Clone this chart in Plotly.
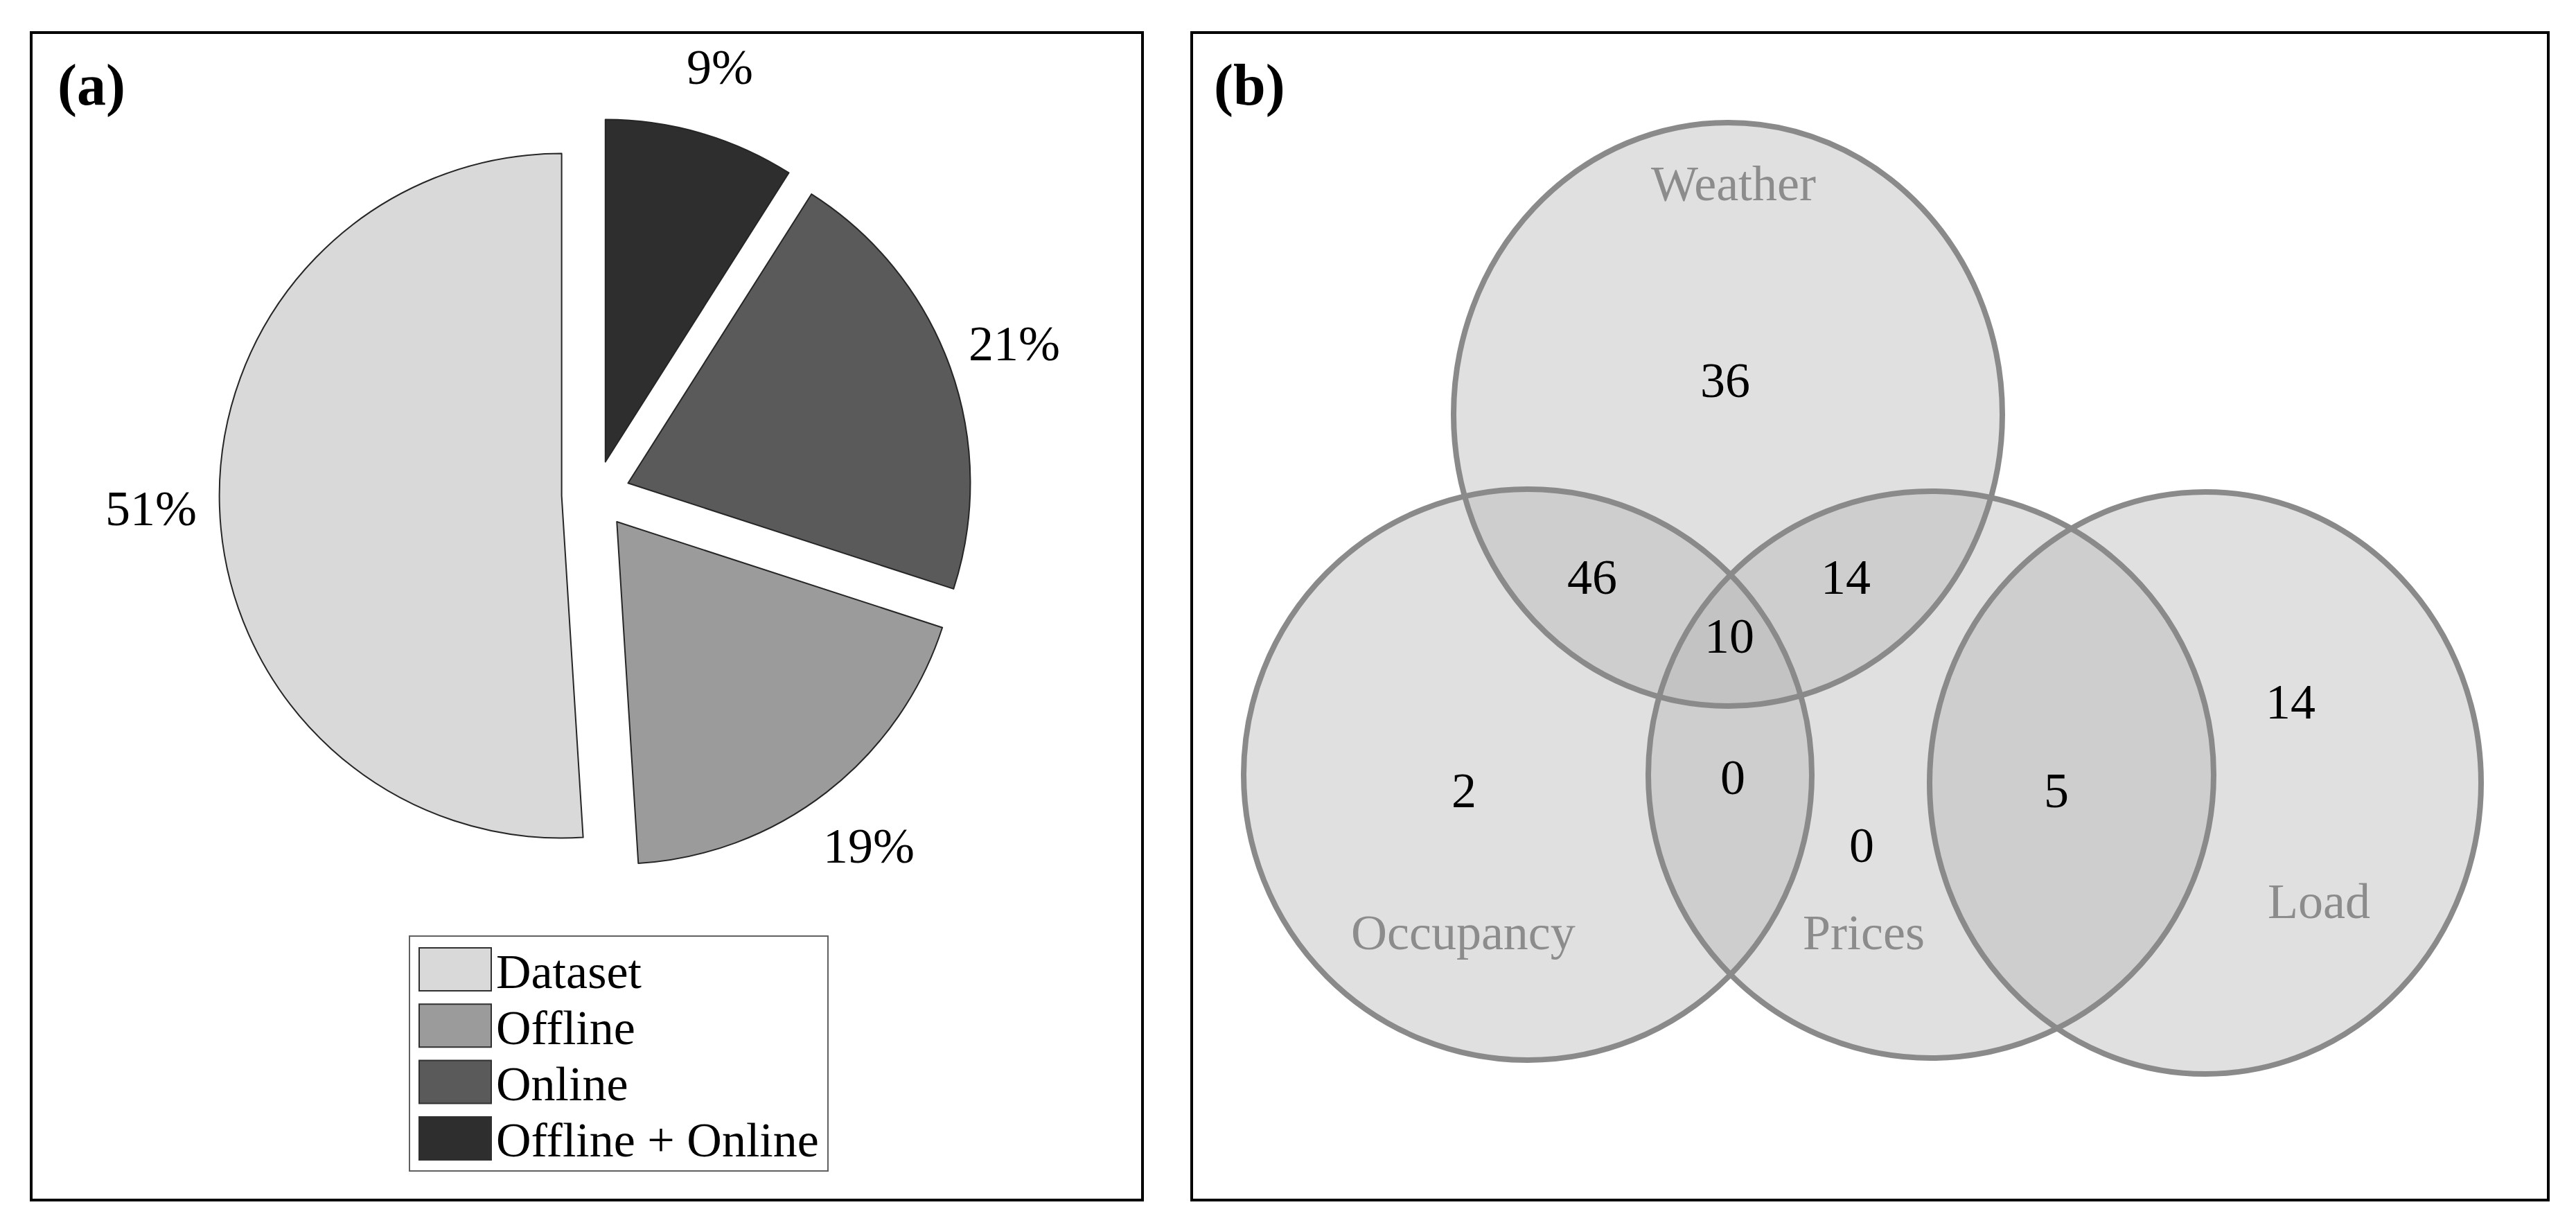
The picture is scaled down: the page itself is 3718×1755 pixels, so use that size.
import math
import plotly.graph_objects as go

W, H = 3718, 1755

# (a) pie
pie_labels = ["Dataset", "Offline", "Online", "Offline + Online"]
pie_values = [51, 19, 21, 9]
pie_colors = ["#d9d9d9", "#9b9b9b", "#5a5a5a", "#2e2e2e"]

# (b) venn
set_names = ["Weather", "Occupancy", "Prices", "Load"]
region_names = ["Weather", "Weather & Occupancy", "Weather & Prices",
                "Weather & Occupancy & Prices", "Occupancy", "Occupancy & Prices",
                "Prices", "Prices & Load", "Load"]
region_counts = [36, 46, 14, 10, 2, 0, 0, 5, 14]

# geometry in figure pixels (x right, y down)
PIE_C = (852, 706)
PIE_R = 494
PULL = 0.1
set_ellipses = [(2486, 590, 396, 421), (2197, 1110, 410, 412),
                (2779, 1110, 408, 409), (3175, 1122, 398, 420)]
set_label_xy = [(2494, 257), (2104, 1338), (2682, 1338), (3339, 1293)]
region_xy = [(2482, 541), (2290, 825), (2656, 825), (2488, 910), (2105, 1133),
             (2493, 1114), (2679, 1212), (2960, 1133), (3298, 1005)]

FONT = "Liberation Serif, Times New Roman, serif"


def px(x):
    return x / W


def py(y):
    return 1 - y / H


half = PIE_R * (1 + PULL)
# slices go counterclockwise from 12 o'clock in legend order -> feed reversed, clockwise
fig = go.Figure(go.Pie(
    labels=pie_labels[::-1], values=pie_values[::-1],
    marker=dict(colors=pie_colors[::-1], line=dict(color="#262626", width=2)),
    sort=False, direction="clockwise", rotation=0,
    pull=[PULL] * len(pie_values),
    textinfo="none", hoverinfo="label+percent", showlegend=False,
    domain=dict(x=[px(PIE_C[0] - half), px(PIE_C[0] + half)],
                y=[py(PIE_C[1] + half), py(PIE_C[1] - half)]),
))

shapes = []
annotations = []

# panel frames
for x0, x1 in [(37, 1641), (1712, 3670)]:
    shapes.append(dict(type="rect", xref="paper", yref="paper",
                       x0=px(x0), x1=px(x1), y0=py(39), y1=py(1724),
                       line=dict(color="black", width=4)))
for txt, x in [("(a)", 73), ("(b)", 1742)]:
    annotations.append(dict(text=f"<b>{txt}</b>", xref="paper", yref="paper",
                            x=px(x), y=py(115), xanchor="left", yanchor="middle",
                            showarrow=False, font=dict(family=FONT, size=84, color="black")))

# percentage labels along each slice's mid angle (counterclockwise from top)
total = sum(pie_values)
cum = 0
for v in pie_values:
    theta = -2 * math.pi * (cum + v / 2) / total
    cum += v
    d = 1.3 * PIE_R
    x = PIE_C[0] + d * math.sin(theta)
    y = PIE_C[1] - d * math.cos(theta)
    annotations.append(dict(text=f"{v / total * 100:.0f}%", xref="paper", yref="paper",
                            x=px(x), y=py(y), xanchor="center", yanchor="middle",
                            showarrow=False, font=dict(family=FONT, size=72, color="black")))

# legend box
shapes.append(dict(type="rect", xref="paper", yref="paper",
                   x0=px(583), x1=px(1187), y0=py(1343), y1=py(1682),
                   line=dict(color="#606060", width=2), fillcolor="white"))
for i, (lab, col) in enumerate(zip(pie_labels, pie_colors)):
    yc = 1391 + 81.3 * i
    shapes.append(dict(type="rect", xref="paper", yref="paper",
                       x0=px(597), x1=px(701), y0=py(yc - 31), y1=py(yc + 31),
                       line=dict(color="#303030", width=2), fillcolor=col))
    annotations.append(dict(text=lab, xref="paper", yref="paper",
                            x=px(706), y=py(yc + 3), xanchor="left", yanchor="middle",
                            showarrow=False, font=dict(family=FONT, size=70, color="black")))

# venn sets: fills first, then outlines
for cx, cy, rx, ry in set_ellipses:
    shapes.append(dict(type="circle", xref="paper", yref="paper",
                       x0=px(cx - rx), x1=px(cx + rx), y0=py(cy + ry), y1=py(cy - ry),
                       line=dict(width=0), fillcolor="rgba(181,181,181,0.42)"))
for cx, cy, rx, ry in set_ellipses:
    shapes.append(dict(type="circle", xref="paper", yref="paper",
                       x0=px(cx - rx), x1=px(cx + rx), y0=py(cy + ry), y1=py(cy - ry),
                       line=dict(color="rgb(138,138,138)", width=8),
                       fillcolor="rgba(0,0,0,0)"))

for name, (x, y) in zip(set_names, set_label_xy):
    annotations.append(dict(text=name, xref="paper", yref="paper", x=px(x), y=py(y),
                            showarrow=False, xanchor="center", yanchor="middle",
                            font=dict(family=FONT, size=72, color="#8c8c8c")))
for n, (x, y) in zip(region_counts, region_xy):
    annotations.append(dict(text=str(n), xref="paper", yref="paper", x=px(x), y=py(y),
                            showarrow=False, xanchor="center", yanchor="middle",
                            font=dict(family=FONT, size=72, color="black")))

fig.update_layout(
    width=W, height=H,
    margin=dict(l=0, r=0, t=0, b=0),
    paper_bgcolor="white", plot_bgcolor="white",
    showlegend=False,
    shapes=shapes, annotations=annotations,
)

fig.write_html("out.html")
